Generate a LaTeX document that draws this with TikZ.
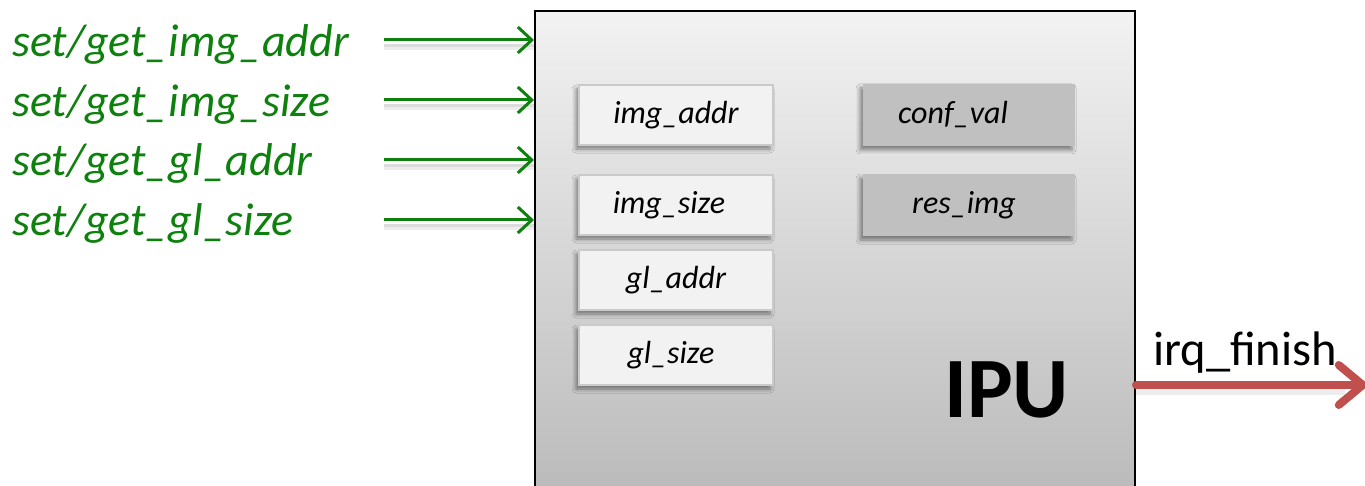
\documentclass[tikz,border=0pt]{standalone}
\usepackage{fontspec}
\setmainfont{Carlito}
\usetikzlibrary{arrows.meta,shadows.blur}
\definecolor{ctrlgreen}{RGB}{14,128,14}
\definecolor{irqred}{RGB}{192,80,77}
\definecolor{regfill}{RGB}{242,242,242}
\definecolor{regedge}{RGB}{202,202,202}
\definecolor{resfill}{RGB}{192,192,192}
\begin{document}
\begin{tikzpicture}[x=1pt,y=-1pt,
  ipubox/.style={draw=black, line width=2pt, top color=black!5, bottom color=black!28,
    anchor=north west, inner sep=0pt},
  regbox/.style={draw=regedge, line width=1.5pt, fill=regfill, inner sep=0pt,
    minimum width=194pt, minimum height=60pt,
    font=\fontsize{32}{36}\selectfont\itshape,
    blur shadow={shadow xshift=-3pt, shadow yshift=-4pt, shadow blur radius=4pt, shadow opacity=45}},
  resbox/.style={draw=none, fill=resfill, inner sep=0pt,
    minimum width=212pt, minimum height=62pt,
    font=\fontsize{32}{36}\selectfont\itshape,
    blur shadow={shadow xshift=-3pt, shadow yshift=-4pt, shadow blur radius=4pt, shadow opacity=45}},
  cmdlabel/.style={anchor=base west, inner sep=0pt, text=ctrlgreen,
    font=\fontsize{46}{52}\selectfont\itshape},
  cmdarrow/.style={draw=ctrlgreen, line width=3pt,
    -{Straight Barb[length=14pt, width=26pt, line width=3pt]}},
  softshade/.style={draw=black, line width=6pt, opacity=0.07},
  irqarrow/.style={draw=irqred, line width=8pt, line cap=round,
    -{Straight Barb[length=24pt, width=40pt, line width=8pt, line cap=round]}},
]
\useasboundingbox (0,0) rectangle (1365,486);

% processing unit body
\node[ipubox, minimum width=600pt, minimum height=510pt] (ipu) at (534,10) {};

% input registers
\node[regbox] (imgaddr) at (676,115) {img\_addr};
\node[regbox] (imgsize) at (676,205) {\hspace*{-14pt}img\_size};
\node[regbox] (gladdr) at (676,280) {gl\_addr};
\node[regbox] (glsize) at (676,355) {\hspace*{-10pt}gl\_size};

% result registers
\node[resbox] (confval) at (969,115) {\hspace*{-32pt}conf\_val};
\node[resbox] (resimg) at (969,205) {\hspace*{-10pt}res\_img};

% unit name
\node[anchor=base west, inner sep=0pt, font=\fontsize{86}{94}\selectfont\bfseries] (ipuname) at (944,417) {IPU};

% control interface
\node[cmdlabel] (c1) at (12,57) {set/get\_img\_addr};
\node[cmdlabel] (c2) at (12,117) {set/get\_img\_size};
\node[cmdlabel] (c3) at (12,176) {set/get\_gl\_addr};
\node[cmdlabel] (c4) at (12,236) {set/get\_gl\_size};

\coordinate (s1) at (384,40);
\coordinate (s2) at (384,100);
\coordinate (s3) at (384,160);
\coordinate (s4) at (384,220);
\foreach \s in {s1,s2,s3,s4}{
  \draw[softshade] ([yshift=-7pt]\s) -- ([yshift=-7pt]\s -| ipu.west);
  \draw[softshade, line width=3pt] ([yshift=-6pt]\s) -- ([yshift=-6pt]\s -| ipu.west);
  \draw[cmdarrow] (\s) -- (\s -| ipu.west);
}

% interrupt output
\coordinate (irqend) at (1369,385);
\node[anchor=base west, inner sep=0pt, font=\fontsize{48.5}{54}\selectfont] (irqlabel) at (1153,365) {irq\_finish};
\draw[softshade, line width=8pt] ([yshift=-6pt]ipu.east |- irqend) -- ([yshift=-6pt,xshift=-24pt]irqend);
\draw[irqarrow] (ipu.east |- irqend) -- (irqend);
\end{tikzpicture}
\end{document}
